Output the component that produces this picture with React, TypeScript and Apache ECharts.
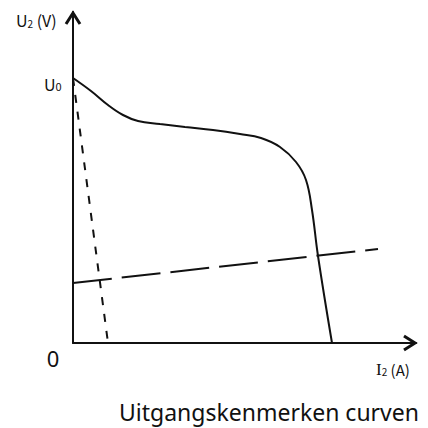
import React, { useEffect, useRef } from "react";
import * as echarts from "echarts";

// Output characteristic curve (arbitrary units, current vs voltage)
const curveI = [0, 18, 35, 50, 65, 87, 112, 140, 167, 188, 207, 223, 233, 239, 245, 259];
const curveU = [265, 252, 238, 228, 222, 219, 216, 213, 209, 205, 196, 181, 163, 133, 87, 0];

// Steep short-dashed line
const steepI = [0, 35];
const steepU = [265, 0];

// Long-dashed load line
const loadI = [0, 305];
const loadU = [60, 94];

const X_MAX = 343;
const Y_MAX = 331;

const toPairs = (xs: number[], ys: number[]) => xs.map((x, i) => [x, ys[i]]);

export default function App() {
  const ref = useRef<HTMLDivElement>(null);
  useEffect(() => {
    if (!ref.current) return;
    const chart = echarts.init(ref.current, null, { renderer: "svg" });
    chart.setOption({
      animation: false,
      backgroundColor: "#fff",
      grid: { left: 73, top: 12, right: 12, bottom: 85 },
      xAxis: {
        type: "value",
        min: 0,
        max: X_MAX,
        axisLine: { show: true, lineStyle: { color: "#111", width: 2 } },
        axisTick: { show: false },
        axisLabel: { show: false },
        splitLine: { show: false },
      },
      yAxis: {
        type: "value",
        min: 0,
        max: Y_MAX,
        axisLine: { show: true, lineStyle: { color: "#111", width: 2 } },
        axisTick: { show: false },
        axisLabel: { show: false },
        splitLine: { show: false },
      },
      series: [
        {
          type: "line",
          data: toPairs(curveI, curveU),
          smooth: 0.4,
          showSymbol: false,
          lineStyle: { color: "#111", width: 2 },
        },
        {
          type: "line",
          data: toPairs(steepI, steepU),
          showSymbol: false,
          lineStyle: { color: "#111", width: 2, type: [8, 9] },
        },
        {
          type: "line",
          data: toPairs(loadI, loadU),
          showSymbol: false,
          lineStyle: { color: "#111", width: 2, type: [39, 10] },
        },
      ],
    });
    const o = chart.convertToPixel({ gridIndex: 0 }, [0, 0]) as number[];
    const xEnd = chart.convertToPixel({ gridIndex: 0 }, [X_MAX, 0]) as number[];
    const yEnd = chart.convertToPixel({ gridIndex: 0 }, [0, Y_MAX]) as number[];
    const u0 = chart.convertToPixel({ gridIndex: 0 }, [0, curveU[0]]) as number[];
    chart.setOption({
      graphic: [
        {
          type: "polyline",
          shape: { points: [[yEnd[0] - 7, yEnd[1] + 12], [yEnd[0], yEnd[1] + 1], [yEnd[0] + 7, yEnd[1] + 12]] },
          style: { stroke: "#111", lineWidth: 3, fill: "none" },
        },
        {
          type: "polyline",
          shape: { points: [[xEnd[0] - 12, xEnd[1] - 7], [xEnd[0] - 1, xEnd[1]], [xEnd[0] - 12, xEnd[1] + 7]] },
          style: { stroke: "#111", lineWidth: 3, fill: "none" },
        },
        {
          type: "text",
          x: 16,
          y: 20,
          style: {
            text: "{u|U}{s|2}{p| (V)}",
            verticalAlign: "middle",
            rich: {
              u: { fontSize: 16, fontFamily: "Noto Sans CJK SC", fill: "#111" },
              s: { fontSize: 10, fontFamily: "Noto Sans CJK SC", fill: "#111", padding: [6, 0, 0, 0] },
              p: { fontSize: 16, fontFamily: "Noto Sans CJK SC", fill: "#111" },
            },
          },
        },
        {
          type: "text",
          x: 44,
          y: u0[1] + 6,
          style: {
            text: "{u|U}{s|0}",
            verticalAlign: "middle",
            rich: {
              u: { fontSize: 16, fontFamily: "Noto Sans CJK SC", fill: "#111" },
              s: { fontSize: 11, fontFamily: "Noto Sans CJK SC", fill: "#111", padding: [4, 0, 0, 0] },
            },
          },
        },
        {
          type: "text",
          x: 53,
          y: o[1] + 15,
          style: { text: "0", fontSize: 22, fontFamily: "Noto Sans", fill: "#111", align: "center", verticalAlign: "middle" },
        },
        {
          type: "text",
          x: 376,
          y: o[1] + 26,
          style: {
            text: "{u|I}{s|2}{p| (A)}",
            verticalAlign: "middle",
            rich: {
              u: { fontSize: 17, fontFamily: "Liberation Serif", fill: "#111" },
              s: { fontSize: 10, fontFamily: "Noto Sans CJK SC", fill: "#111", padding: [5, 0, 0, 0] },
              p: { fontSize: 15, fontFamily: "Noto Sans CJK SC", fill: "#111" },
            },
          },
        },
        {
          type: "text",
          x: 419,
          y: 412,
          style: {
            text: "Uitgangskenmerken curven",
            fontSize: 23,
            fontFamily: "Noto Sans",
            fill: "#111",
            align: "right",
            verticalAlign: "middle",
          },
        },
      ],
    });
    return () => chart.dispose();
  }, []);
  return <div ref={ref} style={{ position: "fixed", left: 0, top: 0, width: 428, height: 428 }} />;
}
